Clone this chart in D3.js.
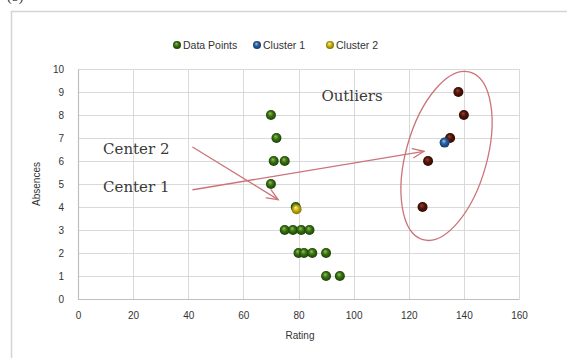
<!DOCTYPE html>
<html>
<head>
<meta charset="utf-8">
<script src="https://cdn.jsdelivr.net/npm/d3@7"></script>
<style>
  html, body { margin: 0; padding: 0; background: #fff; }
  svg { display: block; }
</style>
</head>
<body>
<svg id="chart" width="567" height="358"></svg>
<script>
// Ratings vs. absences with the two cluster centres
const pointRating   = [70, 72, 71, 75, 70, 79, 75, 78, 81, 84, 80, 82, 85, 90, 90, 95];
const pointAbsences = [8, 7, 6, 6, 5, 4, 3, 3, 3, 3, 2, 2, 2, 2, 1, 1];
const outlierRating   = [138, 140, 135, 127, 125];
const outlierAbsences = [9, 8, 7, 6, 4];
const cluster1 = [133, 6.8];
const cluster2 = [79.3, 3.9];
const xTicks = [0, 20, 40, 60, 80, 100, 120, 140, 160];
const yTicks = [0, 1, 2, 3, 4, 5, 6, 7, 8, 9, 10];
const legendNames = ["Data Points", "Cluster 1", "Cluster 2"];

// annotation arrows, in data units: [fromRating, fromAbsences, toRating, toAbsences]
const centreLabels = ["Center 2", "Center 1"];
const centreArrows = [[41.7, 6.6, 72.6, 4.32], [41.7, 4.75, 125.5, 6.42]];
const centreLabelPos = [[9.1, 6.3], [9.1, 4.65]];

const svg = d3.select("#chart");
const x = d3.scaleLinear().domain([0, 160]).range([78, 519]);
const y = d3.scaleLinear().domain([0, 10]).range([299, 69]);

// outer chart frame
svg.append("text").attr("x", 7).attr("y", 1).attr("font-family", "Liberation Serif")
  .attr("font-size", 14).attr("fill", "#333").text("(b)");
svg.append("path").attr("d", "M11.5,358V11.5H567").attr("fill", "none")
  .attr("stroke", "#d4d4d4").attr("stroke-width", 1.5);

// sphere-like marker fills
const defs = svg.append("defs");
function sphere(id, hi, mid, edge) {
  const g = defs.append("radialGradient").attr("id", id)
    .attr("cx", "50%").attr("cy", "50%").attr("r", "55%").attr("fx", "40%").attr("fy", "32%");
  g.append("stop").attr("offset", "0%").attr("stop-color", hi);
  g.append("stop").attr("offset", "45%").attr("stop-color", mid);
  g.append("stop").attr("offset", "100%").attr("stop-color", edge);
}
sphere("gGreen", "#93c757", "#3a7213", "#163804");
sphere("gRed", "#9a4232", "#521609", "#2a0803");
sphere("gBlue", "#a0c6ee", "#2a5e9f", "#103566");
sphere("gYellow", "#fff29a", "#c9b310", "#746500");

// grid
const grid = svg.append("g").attr("stroke", "#d9d9d9").attr("stroke-width", 1);
grid.selectAll(".gx").data(xTicks).join("line")
  .attr("x1", d => Math.round(x(d)) + 0.5).attr("x2", d => Math.round(x(d)) + 0.5)
  .attr("y1", y(10)).attr("y2", y(0));
grid.selectAll(".gy").data(yTicks).join("line")
  .attr("y1", d => Math.round(y(d)) + 0.5).attr("y2", d => Math.round(y(d)) + 0.5)
  .attr("x1", x(0)).attr("x2", x(160));

// axes (labels only, Excel style)
const xAxis = svg.append("g").attr("transform", `translate(0,${y(0)})`)
  .call(d3.axisBottom(x).tickValues(xTicks).tickSize(0).tickPadding(13));
const yAxis = svg.append("g").attr("transform", `translate(${x(0)},0)`)
  .call(d3.axisLeft(y).tickValues(yTicks).tickSize(0).tickPadding(14));
[xAxis, yAxis].forEach(a => {
  a.select(".domain").attr("stroke", "#bfbfbf").attr("stroke-width", 1.2);
  a.selectAll("text").attr("font-family", "Liberation Sans, Arial, sans-serif")
    .attr("font-size", 10).attr("fill", "#333");
});

svg.append("text").attr("x", 300).attr("y", 339).attr("text-anchor", "middle")
  .attr("font-family", "Liberation Sans, Arial, sans-serif").attr("font-size", 10)
  .attr("fill", "#333").text("Rating");
svg.append("text").attr("transform", "translate(40,184) rotate(-90)").attr("text-anchor", "middle")
  .attr("font-family", "Liberation Sans, Arial, sans-serif").attr("font-size", 10)
  .attr("fill", "#333").text("Absences");

// legend
const legendX = [177, 257, 330];
const legendFill = ["url(#gGreen)", "url(#gBlue)", "url(#gYellow)"];
const lg = svg.append("g");
legendNames.forEach((n, i) => {
  lg.append("circle").attr("cx", legendX[i]).attr("cy", 45).attr("r", 4).attr("fill", legendFill[i]);
  lg.append("text").attr("x", legendX[i] + 6).attr("y", 48.5)
    .attr("font-family", "Liberation Sans, Arial, sans-serif").attr("font-size", 10.5)
    .attr("fill", "#333").text(n);
});

// points
const R = 5;
svg.append("g").selectAll("circle").data(pointRating).join("circle")
  .attr("cx", (d, i) => x(d)).attr("cy", (d, i) => y(pointAbsences[i])).attr("r", R)
  .attr("fill", "url(#gGreen)");
svg.append("g").selectAll("circle").data(outlierRating).join("circle")
  .attr("cx", (d, i) => x(d)).attr("cy", (d, i) => y(outlierAbsences[i])).attr("r", R)
  .attr("fill", "url(#gRed)");
svg.append("circle").attr("cx", x(cluster1[0])).attr("cy", y(cluster1[1])).attr("r", R)
  .attr("fill", "url(#gBlue)");
svg.append("circle").attr("cx", x(cluster2[0])).attr("cy", y(cluster2[1])).attr("r", R)
  .attr("fill", "url(#gYellow)");

// annotations
const annColor = "#cc7379";
const ann = svg.append("g").attr("fill", "none").attr("stroke", annColor).attr("stroke-width", 1.3)
  .attr("stroke-linecap", "round");
centreArrows.forEach(a => {
  const x1 = x(a[0]), y1 = y(a[1]), x2 = x(a[2]), y2 = y(a[3]);
  const ang = Math.atan2(y2 - y1, x2 - x1), L = 12, s = 0.4;
  ann.append("line").attr("x1", x1).attr("y1", y1).attr("x2", x2).attr("y2", y2);
  ann.append("path").attr("d",
    `M${x2 - L * Math.cos(ang - s)},${y2 - L * Math.sin(ang - s)}L${x2},${y2}` +
    `L${x2 - L * Math.cos(ang + s)},${y2 - L * Math.sin(ang + s)}`);
});
centreLabels.forEach((t, i) => {
  svg.append("text").attr("x", x(centreLabelPos[i][0])).attr("y", y(centreLabelPos[i][1]))
    .attr("font-family", "DejaVu Serif, serif").attr("font-size", 15).attr("fill", "#3a3a3a").text(t);
});
svg.append("text").attr("x", x(88.3)).attr("y", y(8.6))
  .attr("font-family", "DejaVu Serif, serif").attr("font-size", 15).attr("fill", "#3a3a3a").text("Outliers");

// ring around the outlying group
svg.append("ellipse").attr("cx", 0).attr("cy", 0).attr("rx", 40.5).attr("ry", 87)
  .attr("transform", `translate(${x(133.7)},${y(6.22)}) rotate(15.7)`)
  .attr("fill", "none").attr("stroke", annColor).attr("stroke-width", 1.3);
</script>
</body>
</html>
